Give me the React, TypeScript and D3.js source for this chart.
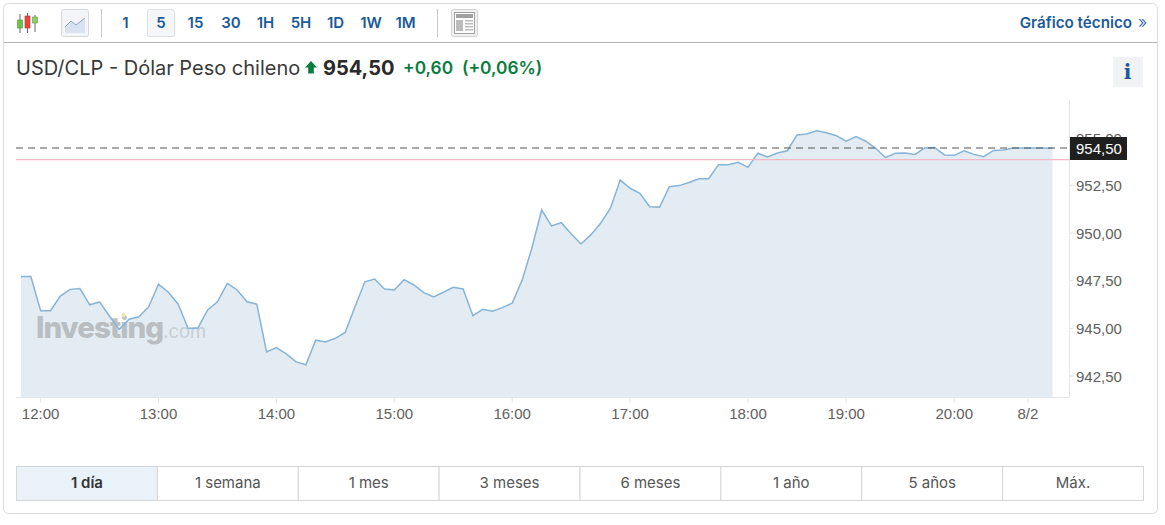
import { useEffect, useRef } from "react";
import * as d3 from "d3";

// closing values, 5 minute bars
const closes = [
  947.72, 947.72, 945.93, 945.93, 946.7, 947.05, 947.09, 946.24, 946.39, 945.65,
  944.95, 945.48, 945.61, 946.14, 947.32, 946.9, 946.27, 945.01, 945.01, 945.97,
  946.4, 947.37, 947.02, 946.4, 946.27, 943.76, 943.99, 943.66, 943.24, 943.09,
  944.38, 944.29, 944.48, 944.79, 946.14, 947.45, 947.59, 947.07, 947.02, 947.56,
  947.28, 946.88, 946.65, 946.9, 947.16, 947.07, 945.67, 946.0, 945.9, 946.09,
  946.33, 947.51, 949.21, 951.22, 950.38, 950.55, 949.97, 949.43, 949.91, 950.52,
  951.31, 952.79, 952.36, 952.1, 951.39, 951.37, 952.44, 952.5, 952.66, 952.86,
  952.86, 953.6, 953.6, 953.72, 953.46, 954.2, 954.0, 954.21, 954.33, 955.16,
  955.21, 955.38, 955.28, 955.12, 954.83, 955.07, 954.83, 954.46, 953.97, 954.2,
  954.21, 954.14, 954.48, 954.5, 954.11, 954.09, 954.33, 954.14, 954.02, 954.35,
  954.37, 954.48, 954.48, 954.48, 954.48, 954.46,
];
const timeLabels = ["12:00", "13:00", "14:00", "15:00", "16:00", "17:00", "18:00", "19:00", "20:00", "8/2"];
const timeBars = [2, 14, 26, 38, 50, 62, 74, 84, 95, 102.5];
const priceTicks = [942.5, 945, 947.5, 950, 952.5, 955];
const lastPrice = 954.5;
const prevClose = 953.9;
const intervals = ["1", "5", "15", "30", "1H", "5H", "1D", "1W", "1M"];
const intervalCentres = [125.5, 161, 195.5, 231, 265.5, 301, 335.5, 371, 405.5];
const ranges = ["1 día", "1 semana", "1 mes", "3 meses", "6 meses", "1 año", "5 años", "Máx."];

const FONT = "Inter, 'Noto Sans', sans-serif";
const AXIS_FONT = "'Liberation Sans', Arial, sans-serif";
const BLUE = "#1b5a9a";
const fmt = (v: number) => v.toFixed(2).replace(".", ",");

const App = () => {
  const ref = useRef<SVGSVGElement>(null);

  useEffect(() => {
    const svg = d3.select(ref.current);
    svg.selectAll("*").remove();
    svg.attr("font-family", FONT);

    const x = d3.scaleLinear().domain([0, closes.length - 1]).range([21, 1052.5]);
    const y = d3.scaleLinear().domain([942.5, 955]).range([376, 138]);
    const bottom = 397;

    // outer frame
    svg.append("rect").attr("x", 3.5).attr("y", 3.5).attr("width", 1154).attr("height", 510)
      .attr("rx", 5).attr("fill", "#fff").attr("stroke", "#dcdcdc");
    svg.append("line").attr("x1", 4).attr("x2", 1157).attr("y1", 42.5).attr("y2", 42.5).attr("stroke", "#b5b5b5");

    // toolbar: candle icon
    const candle = svg.append("g");
    [
      { cx: 20, top: 14, bot: 33, y0: 20, h: 8, c: "#6cc24a", o: "#4c9a35" },
      { cx: 27.5, top: 13, bot: 33, y0: 16, h: 12, c: "#e8473f", o: "#b5352f" },
      { cx: 35, top: 15, bot: 32, y0: 17, h: 6, c: "#8ccf6d", o: "#5da544" },
    ].forEach((k) => {
      candle.append("line").attr("x1", k.cx).attr("x2", k.cx).attr("y1", k.top).attr("y2", k.bot).attr("stroke", "#666");
      candle.append("rect").attr("x", k.cx - 2.5).attr("y", k.y0).attr("width", 5).attr("height", k.h)
        .attr("fill", k.c).attr("stroke", k.o).attr("stroke-width", 0.6);
    });

    // toolbar: area icon
    svg.append("rect").attr("x", 61.5).attr("y", 9.5).attr("width", 27).attr("height", 27).attr("rx", 2)
      .attr("fill", "#f3f5f8").attr("stroke", "#d5d8dc");
    svg.append("path").attr("d", "M65 27L71 21L76 25L85 18V33H65Z").attr("fill", "#d8e2f0");
    svg.append("path").attr("d", "M65 27L71 21L76 25L85 18").attr("fill", "none").attr("stroke", "#8ba7cc");

    svg.append("line").attr("x1", 101.5).attr("x2", 101.5).attr("y1", 9).attr("y2", 37).attr("stroke", "#c8c8c8");
    svg.append("line").attr("x1", 437.5).attr("x2", 437.5).attr("y1", 9).attr("y2", 37).attr("stroke", "#c8c8c8");

    // selected interval
    svg.append("rect").attr("x", 147.5).attr("y", 9.5).attr("width", 27).attr("height", 27).attr("rx", 2)
      .attr("fill", "#f5f6f8").attr("stroke", "#dcdfe3");
    svg.append("g").selectAll("text").data(intervals).join("text")
      .attr("x", (_, i) => intervalCentres[i]).attr("y", 28)
      .attr("text-anchor", "middle").attr("font-size", 15).attr("font-weight", 600).attr("fill", BLUE)
      .text((d) => d);

    // toolbar: news icon
    svg.append("rect").attr("x", 451.5).attr("y", 9.5).attr("width", 26).attr("height", 27).attr("rx", 2)
      .attr("fill", "#f1f1f1").attr("stroke", "#d2d2d2");
    svg.append("rect").attr("x", 454.5).attr("y", 12.5).attr("width", 20).attr("height", 21).attr("fill", "#fff").attr("stroke", "#a0a0a0");
    svg.append("rect").attr("x", 456).attr("y", 14).attr("width", 17).attr("height", 4).attr("fill", "#a0a0a0");
    svg.append("rect").attr("x", 456).attr("y", 20).attr("width", 7).attr("height", 11).attr("fill", "#bcbcbc");
    d3.range(4).forEach((i) => {
      svg.append("rect").attr("x", 465).attr("y", 20 + i * 3).attr("width", 8).attr("height", 1.5).attr("fill", "#bcbcbc");
    });

    svg.append("text").attr("x", 1132).attr("y", 28).attr("text-anchor", "end")
      .attr("font-size", 15.2).attr("font-weight", 600).attr("fill", BLUE).text("Gráfico técnico");
    svg.append("text").attr("x", 1147).attr("y", 28).attr("text-anchor", "end")
      .attr("font-size", 17).attr("font-weight", 300).attr("fill", BLUE).text("»");

    // title row
    svg.append("text").attr("x", 16).attr("y", 75).attr("font-size", 20).attr("fill", "#3a3a3a").text("USD/CLP - Dólar Peso chileno");
    svg.append("path").attr("d", "M311 61L317 67.5H313.8V73.5H308.2V67.5H305Z").attr("fill", "#0a7d3e");
    svg.append("text").attr("x", 323).attr("y", 75).attr("font-size", 20).attr("font-weight", 700).attr("fill", "#2a2a2a").text(fmt(lastPrice));
    svg.append("text").attr("x", 403).attr("y", 74).attr("font-size", 17.3).attr("font-weight", 600).attr("fill", "#0a7d3e").text("+0,60");
    svg.append("text").attr("x", 462).attr("y", 74).attr("font-size", 17.3).attr("font-weight", 600).attr("fill", "#0a7d3e").text("(+0,06%)");

    // info button
    svg.append("rect").attr("x", 1113).attr("y", 57).attr("width", 30).attr("height", 30).attr("fill", "#f1f2f4");
    svg.append("text").attr("x", 1127.5).attr("y", 79).attr("text-anchor", "middle")
      .attr("font-family", "'DejaVu Serif', serif").attr("font-size", 20).attr("font-weight", 700).attr("fill", BLUE).text("i");

    // area + line
    const area = d3.area<number>().x((_, i) => x(i)).y0(bottom).y1((d) => y(d));
    const line = d3.line<number>().x((_, i) => x(i)).y((d) => y(d));
    svg.append("path").attr("d", area(closes) as string).attr("fill", "#e3ecf3");

    // watermark
    const mark = svg.append("text").attr("x", 36).attr("y", 338).attr("opacity", 0.8);
    mark.append("tspan").attr("font-size", 29.5).attr("font-weight", 800).attr("letter-spacing", -1).attr("fill", "#aeb3b7").text("Investing");
    mark.append("tspan").attr("font-size", 18.5).attr("fill", "#c2c7cc").text(".com");
    svg.append("circle").attr("cx", 123.5).attr("cy", 315).attr("r", 2.2).attr("fill", "#f3e6b5");

    svg.append("path").attr("d", line(closes) as string).attr("fill", "none").attr("stroke", "#85b4d8").attr("stroke-width", 1.5);

    // axes
    svg.append("line").attr("x1", 1069.5).attr("x2", 1069.5).attr("y1", 100).attr("y2", bottom).attr("stroke", "#e6e6e6");
    svg.append("line").attr("x1", 16).attr("x2", 1070).attr("y1", bottom + 0.5).attr("y2", bottom + 0.5).attr("stroke", "#e6e6e6");

    const yTicks = svg.append("g").selectAll("g").data(priceTicks).join("g");
    yTicks.append("line").attr("x1", 1069).attr("x2", 1074).attr("y1", (d) => y(d)).attr("y2", (d) => y(d)).attr("stroke", "#e6e6e6");
    yTicks.append("text").attr("x", 1076).attr("y", (d) => y(d) + 5.5)
      .attr("font-family", AXIS_FONT).attr("font-size", 15).attr("fill", "#606060").text((d) => fmt(d));

    const xTicks = svg.append("g").selectAll("g").data(timeBars).join("g");
    xTicks.append("line").attr("x1", (d) => x(d)).attr("x2", (d) => x(d)).attr("y1", bottom).attr("y2", bottom + 6).attr("stroke", "#e6e6e6");
    xTicks.append("text").attr("x", (d) => x(d)).attr("y", 419).attr("text-anchor", "middle")
      .attr("font-family", AXIS_FONT).attr("font-size", 15).attr("fill", "#606060").text((_, i) => timeLabels[i]);

    // reference lines
    svg.append("line").attr("x1", 16).attr("x2", 1070).attr("y1", y(prevClose) + 0.6).attr("y2", y(prevClose) + 0.6).attr("stroke", "#f2b8c6").attr("stroke-width", 1.2);
    svg.append("line").attr("x1", 16).attr("x2", 1070).attr("y1", y(lastPrice) + 0.5).attr("y2", y(lastPrice) + 0.5)
      .attr("stroke", "#555").attr("stroke-width", 1.2).attr("stroke-dasharray", "7 5");

    svg.append("rect").attr("x", 1070).attr("y", 137).attr("width", 57).attr("height", 23).attr("fill", "#1f1f1f");
    svg.append("text").attr("x", 1076).attr("y", y(lastPrice) + 6.5).attr("font-family", AXIS_FONT).attr("font-size", 15).attr("fill", "#fff").text(fmt(lastPrice));

    // range tabs
    const tab = d3.scaleBand<string>().domain(ranges).range([16.5, 1143.5]);
    const tabs = svg.append("g").selectAll("g").data(ranges).join("g");
    tabs.append("rect").attr("x", (d) => tab(d) as number).attr("y", 466.5).attr("width", tab.bandwidth()).attr("height", 34)
      .attr("fill", (_, i) => (i === 0 ? "#eaf2f9" : "#fff")).attr("stroke", "#d6d6d6");
    tabs.append("text").attr("x", (d) => (tab(d) as number) + tab.bandwidth() / 2).attr("y", 488)
      .attr("text-anchor", "middle").attr("font-size", 15)
      .attr("font-weight", (_, i) => (i === 0 ? 600 : 400))
      .attr("fill", (_, i) => (i === 0 ? "#333" : "#555")).text((d) => d);
  }, []);

  return (
    <>
      <style>{"body{margin:0;background:#fff}"}</style>
      <svg ref={ref} width={1165} height={525} style={{ display: "block" }} />
    </>
  );
};

export default App;
